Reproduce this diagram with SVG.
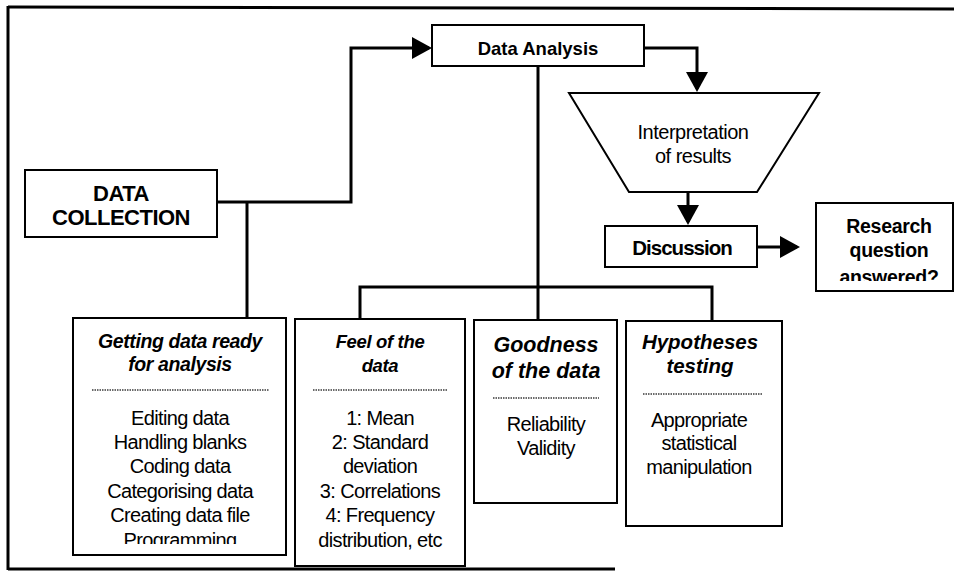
<svg xmlns="http://www.w3.org/2000/svg" width="954" height="573" viewBox="0 0 954 573">
  <defs>
    <style>
      text { font-family: "Liberation Sans", Arial, sans-serif; fill: #000; text-anchor: middle; }
      .box { fill: #fff; stroke: #000; stroke-width: 2; }
      .frame { stroke: #000; stroke-width: 3; fill: none; }
      .conn { stroke: #000; stroke-width: 3; fill: none; }
      .sep { stroke: #6a6a6a; stroke-width: 2; stroke-dasharray: 1.5 1; }
      .b { font-weight: bold; }
      .bi { font-weight: bold; font-style: italic; }
      .item { font-size: 20px; letter-spacing: -0.65px; }
    </style>
    <marker id="arrow" markerUnits="userSpaceOnUse" markerWidth="20" markerHeight="22" refX="17" refY="11" orient="auto">
      <path d="M0,0 L20,11 L0,22 z" fill="#000"/>
    </marker>
    <clipPath id="clip-ready"><rect x="74" y="319" width="211" height="225"/></clipPath>
    <clipPath id="clip-research"><rect x="817" y="204" width="136" height="77"/></clipPath>
  </defs>

  <!-- page frame -->
  <g id="frame">
    <line class="frame" x1="8" y1="7" x2="954" y2="9"/>
    <line class="frame" x1="8" y1="6" x2="8" y2="570"/>
    <line class="frame" x1="8" y1="569" x2="615" y2="569"/>
  </g>

  <!-- connectors -->
  <g id="connectors">
    <path class="conn" d="M217,202 H351 V48 H429" marker-end="url(#arrow)"/>
    <path class="conn" d="M247,202 V318"/>
    <path class="conn" d="M644,48 H697 V89" marker-end="url(#arrow)"/>
    <path class="conn" d="M688,192 V222" marker-end="url(#arrow)"/>
    <path class="conn" d="M757,247 H797" marker-end="url(#arrow)"/>
    <path class="conn" d="M538,66 V320"/>
    <path class="conn" d="M360,319 V287 H712 V321"/>
  </g>

  <g id="data-collection">
    <rect class="box" x="25" y="170" width="192" height="67"/>
    <text class="b" x="121" y="201" font-size="22" letter-spacing="-0.5">DATA</text>
    <text class="b" x="121" y="225" font-size="22" letter-spacing="-0.5">COLLECTION</text>
  </g>

  <g id="data-analysis">
    <rect class="box" x="432" y="25" width="212" height="41"/>
    <text class="b" x="538" y="55" font-size="18.5">Data Analysis</text>
  </g>

  <g id="interpretation">
    <polygon class="box" points="569,93 819,93 757,192 629,192"/>
    <text x="693" y="139" font-size="20" letter-spacing="-0.5">Interpretation</text>
    <text x="693" y="163" font-size="20" letter-spacing="-0.5">of results</text>
  </g>

  <g id="discussion">
    <rect class="box" x="605" y="226" width="152" height="41"/>
    <text class="b" x="682" y="255" font-size="20.5" letter-spacing="-1">Discussion</text>
  </g>

  <g id="research-question">
    <rect class="box" x="816" y="203" width="137" height="88"/>
    <g clip-path="url(#clip-research)">
      <text class="b" x="889" y="233" font-size="19.5" letter-spacing="-0.3">Research</text>
      <text class="b" x="889" y="257" font-size="19.5" letter-spacing="-0.3">question</text>
      <text class="b" x="889" y="284" font-size="19.5" letter-spacing="-0.3">answered?</text>
    </g>
  </g>

  <g id="getting-data-ready">
    <rect class="box" x="73" y="318" width="213" height="237"/>
    <text class="bi" x="180" y="348" font-size="19.5" letter-spacing="-0.4">Getting data ready</text>
    <text class="bi" x="180" y="371" font-size="19.5" letter-spacing="-0.4">for analysis</text>
    <line class="sep" x1="92" y1="390" x2="269" y2="390"/>
    <g clip-path="url(#clip-ready)">
      <text class="item" x="180" y="425">Editing data</text>
      <text class="item" x="180" y="449">Handling blanks</text>
      <text class="item" x="180" y="473">Coding data</text>
      <text class="item" x="180" y="498">Categorising data</text>
      <text class="item" x="180" y="522">Creating data file</text>
      <text class="item" x="180" y="547">Programming</text>
    </g>
  </g>

  <g id="feel-of-data">
    <rect class="box" x="295" y="319" width="170" height="247"/>
    <text class="bi" x="380" y="348" font-size="18.5" letter-spacing="-0.35">Feel of the</text>
    <text class="bi" x="380" y="372" font-size="18.5" letter-spacing="-0.35">data</text>
    <line class="sep" x1="313" y1="390" x2="447" y2="390"/>
    <text class="item" x="380" y="425">1: Mean</text>
    <text class="item" x="380" y="449">2: Standard</text>
    <text class="item" x="380" y="473">deviation</text>
    <text class="item" x="380" y="498">3: Correlations</text>
    <text class="item" x="380" y="522">4: Frequency</text>
    <text class="item" x="380" y="547">distribution, etc</text>
  </g>

  <g id="goodness-of-data">
    <rect class="box" x="474" y="320" width="143" height="183"/>
    <text class="bi" x="546" y="352" font-size="21.5">Goodness</text>
    <text class="bi" x="546" y="378" font-size="21.5">of the data</text>
    <line class="sep" x1="493" y1="398" x2="599" y2="398"/>
    <text class="item" x="546" y="431">Reliability</text>
    <text class="item" x="546" y="455">Validity</text>
  </g>

  <g id="hypotheses-testing">
    <rect class="box" x="626" y="321" width="156" height="205"/>
    <text class="bi" x="700" y="349" font-size="20.5">Hypotheses</text>
    <text class="bi" x="700" y="373" font-size="20.5">testing</text>
    <line class="sep" x1="643" y1="394" x2="763" y2="394"/>
    <text class="item" x="699" y="427">Appropriate</text>
    <text class="item" x="699" y="450">statistical</text>
    <text class="item" x="699" y="474">manipulation</text>
  </g>
</svg>
